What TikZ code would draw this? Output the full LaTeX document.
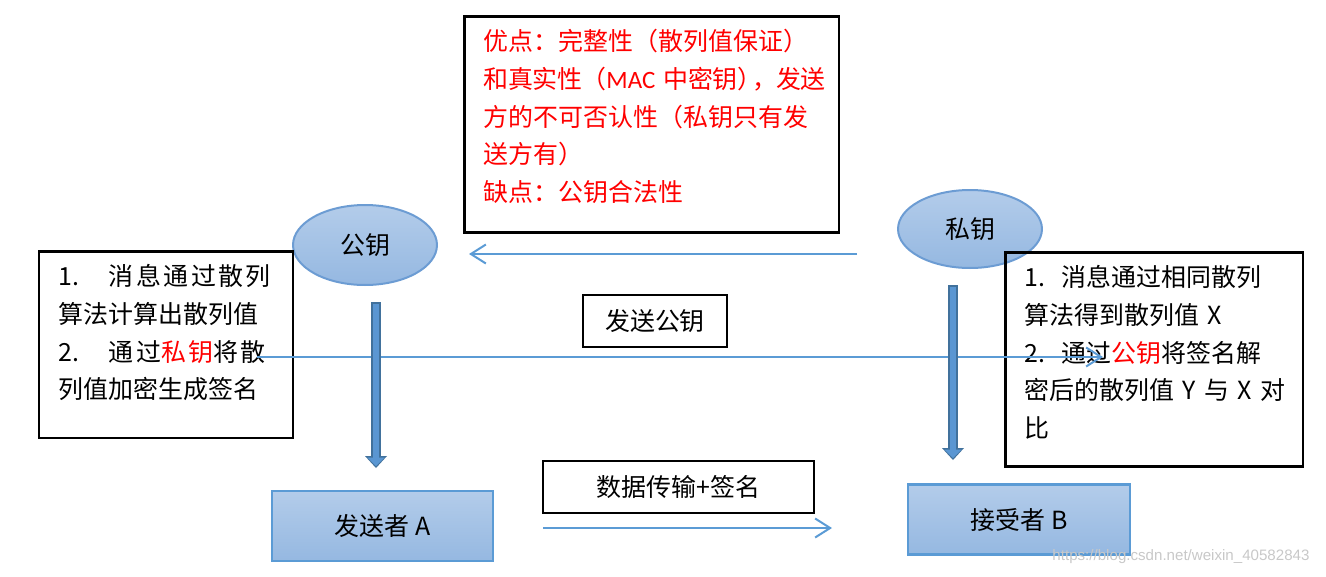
\documentclass[tikz,border=0pt]{standalone}
\usepackage{fontspec}
\usepackage{tikz}
\usetikzlibrary{shapes.geometric, arrows.meta}
\newfontfamily\cjk{Noto Sans CJK SC}
\newfontfamily\latin{Carlito}
\newfontfamily\markfont{Liberation Sans}
\definecolor{keyline}{HTML}{5B9BD5}
\definecolor{ovalline}{HTML}{6C9CD3}
\definecolor{filltop}{HTML}{B3CCEA}
\definecolor{fillbot}{HTML}{95B8E1}
\definecolor{barfill}{HTML}{5A96D2}
\definecolor{bardark}{HTML}{41719C}
\definecolor{markgray}{HTML}{C8C8C8}
\tikzset{
  notebox/.style={draw, line width=0.05cm, anchor=north west, align=left, inner xsep=0.39cm, inner ysep=0.26cm},
  keyoval/.style={ellipse, draw=ovalline, line width=0.04cm, top color=filltop, bottom color=fillbot, minimum width=2.88cm, minimum height=1.6cm},
  party/.style={draw=keyline, line width=0.05cm, top color=filltop, bottom color=fillbot, minimum width=4.42cm, minimum height=1.4cm},
  tagbox/.style={draw, line width=0.05cm, minimum height=1.04cm, inner sep=0pt},
  flow/.style={keyline, line width=0.04cm, -{Straight Barb[length=0.3cm, width=0.38cm]}},
  keybar/.style={bardark, line width=0.2cm, -{Triangle[length=0.24cm, width=0.44cm, line width=0pt]}},
  keybarin/.style={barfill, line width=0.12cm, shorten <=0.04cm, shorten >=0.04cm, -{Triangle[length=0.17cm, width=0.34cm, line width=0pt]}},
  watermark/.style={font=\markfont\fontsize{8.6pt}{10pt}\selectfont, text=markgray}
}
\begin{document}
\begin{tikzpicture}[x=0.02cm, y=-0.02cm, font=\cjk\fontsize{14.2pt}{21.5pt}\selectfont]
\useasboundingbox (0,0) rectangle (1326,576);

\node[notebox, text=red, text width=6.72cm] (pros) at (463,15) {优点：完整性（散列值保证）\\ \mbox{\addfontfeature{LetterSpace=-2}和真实性（{\latin MAC} 中密钥）\kern-0.4em，发送}\\ 方的不可否认性（私钥只有发\\ 送方有）\\ 缺点：公钥合法性\rule[-0.36cm]{0pt}{0.36cm}};

\node[keyoval] (pub) at (365,245) {公钥};
\node[keyoval, minimum height=1.56cm] (priv) at (970,229) {私钥};

\node[notebox, text width=4.3cm] (signer) at (38,250) {\makebox[1cm][l]{1.}{\addfontfeature{LetterSpace=10}消息通过散列}\\ 算法计算出散列值\\ \makebox[1cm][l]{2.}{\addfontfeature{LetterSpace=10}通过\textcolor{red}{私钥}将散}\\ 列值加密生成签名\rule[-0.52cm]{0pt}{0.52cm}};
\node[notebox, text width=5.18cm] (checker) at (1004,251) {\makebox[0.74cm][l]{1.}消息通过相同散列\\ 算法得到散列值 X\\ \makebox[0.74cm][l]{2.}通过\textcolor{red}{公钥}将签名解\\ \mbox{密后的散列值 Y 与 X 对}\\ 比\rule[-0.32cm]{0pt}{0.32cm}};

\node[tagbox, minimum width=2.88cm] (sendkey) at (655,321) {发送公钥};
\node[tagbox, minimum width=5.42cm] (transfer) at (678.5,487) {数据传输+签名};

\node[party] (sender) at (382.5,526) {发送者 A};
\node[party, minimum width=4.44cm] (receiver) at (1019,519.5) {接受者 B};

\coordinate (kfrom) at (857,254);
\coordinate (kto) at (469,254);
\draw[flow] (kfrom) -- (kto);
\coordinate (sfrom) at (257,357);
\coordinate (sto) at (1103,357);
\draw[flow] (sfrom) -- (sto);
\coordinate (dfrom) at (543,528);
\coordinate (dto) at (832,528);
\draw[flow] (dfrom) -- (dto);

\coordinate (pubtop) at (376,302);
\coordinate (pubend) at (376,468);
\draw[keybar] (pubtop) -- (pubend);
\draw[keybarin] (pubtop) -- (pubend);
\coordinate (privtop) at (953,285);
\coordinate (privend) at (953,460);
\draw[keybar] (privtop) -- (privend);
\draw[keybarin] (privtop) -- (privend);

\node[watermark] (mark) at (1181,557) {https://blog.csdn.net/weixin\_40582843};
\end{tikzpicture}
\end{document}
